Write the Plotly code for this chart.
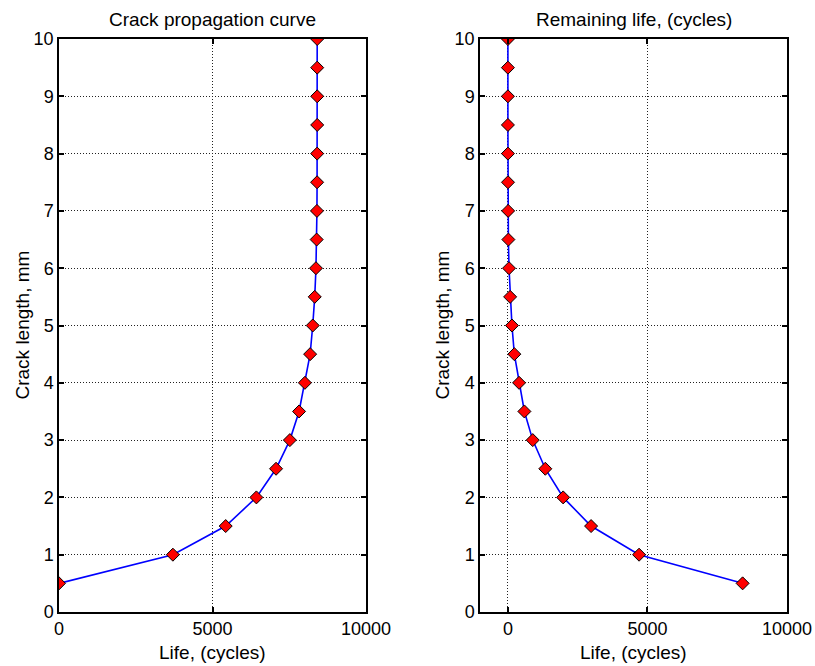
import plotly.graph_objects as go

crack_length = [0.5, 1.0, 1.5, 2.0, 2.5, 3.0, 3.5, 4.0, 4.5, 5.0,
                5.5, 6.0, 6.5, 7.0, 7.5, 8.0, 8.5, 9.0, 9.5, 10.0]
life_cycles = [0, 3710, 5430, 6430, 7070, 7520, 7820, 8010, 8180, 8265,
               8330, 8370, 8393, 8402, 8407, 8409, 8410, 8410, 8410, 8410]
remaining_cycles = [8410, 4700, 2980, 1980, 1340, 890, 590, 400, 230, 145,
                    80, 40, 17, 8, 3, 1, 0, 0, 0, 0]

x_ticks = [0, 5000, 10000]
y_ticks = list(range(0, 11))

FONT = "Liberation Sans, Arial, Helvetica, sans-serif"
W, H = 815, 666

fig = go.Figure()

marker = dict(symbol="diamond", size=10, color="#ff0000",
              line=dict(color="black", width=1))
fig.add_trace(go.Scatter(x=life_cycles, y=crack_length, mode="lines+markers",
                         line=dict(color="#0000ff", width=1.6), marker=marker,
                         xaxis="x", yaxis="y", showlegend=False))
fig.add_trace(go.Scatter(x=remaining_cycles, y=crack_length, mode="lines+markers",
                         line=dict(color="#0000ff", width=1.6), marker=marker,
                         xaxis="x2", yaxis="y2", showlegend=False))

common = dict(showline=True, linecolor="black", linewidth=1.5, mirror="all",
              ticks="inside", ticklen=5, tickwidth=1.5, tickcolor="black",
              showgrid=True, gridcolor="#222222", griddash="1px,2px", gridwidth=1,
              zeroline=False, automargin=False,
              tickfont=dict(size=18, color="black", family=FONT))

def xax(domain, rng, anchor):
    return dict(domain=domain, range=rng, anchor=anchor, tickvals=x_ticks,
                ticktext=[str(v) for v in x_ticks], **common)

def yax(domain, anchor):
    return dict(domain=domain, range=[0, 10], anchor=anchor, tickvals=y_ticks, **common)

L1, R1, L2, R2 = 59, 366, 480, 787
TOP, BOT = 39, 612
ydom = [1 - BOT / H, 1 - TOP / H]

def ann(text, xp, yp, angle=0):
    return dict(text=text, x=xp / W, y=1 - yp / H, xref="paper", yref="paper",
                showarrow=False, font=dict(size=19, color="black", family=FONT),
                xanchor="center", yanchor="middle", textangle=angle)

fig.update_layout(
    width=W, height=H,
    margin=dict(l=0, r=0, t=0, b=0),
    paper_bgcolor="white", plot_bgcolor="white",
    font=dict(family=FONT, color="black"),
    xaxis=xax([L1 / W, R1 / W], [0, 10000], "y"),
    yaxis=yax(ydom, "x"),
    xaxis2=xax([L2 / W, R2 / W], [-1000, 10000], "y2"),
    yaxis2=yax(ydom, "x2"),
    annotations=[
        ann("Crack propagation curve", (L1 + R1) / 2, 20),
        ann("Remaining life, (cycles)", (L2 + R2) / 2, 20),
        ann("Life, (cycles)", (L1 + R1) / 2, 652),
        ann("Life, (cycles)", (L2 + R2) / 2, 652),
        ann("Crack length, mm", 22, (TOP + BOT) / 2, -90),
        ann("Crack length, mm", 442, (TOP + BOT) / 2, -90),
    ],
)

fig.write_html("out.html")
